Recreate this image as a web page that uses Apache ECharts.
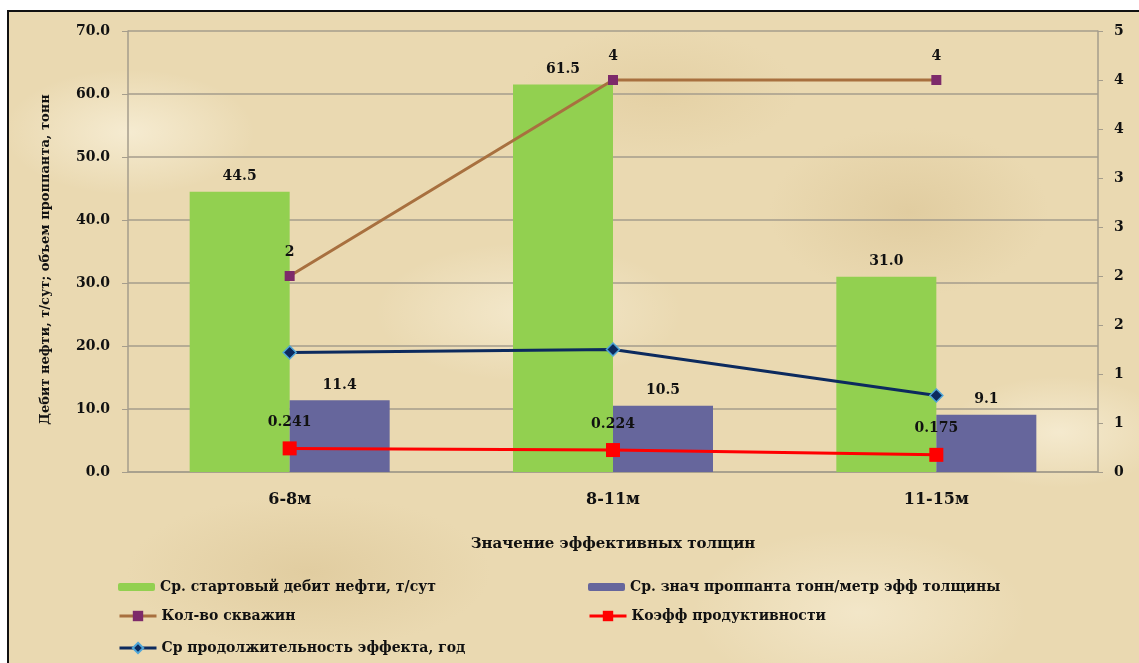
<!DOCTYPE html>
<html>
<head>
<meta charset="utf-8">
<script src="https://cdn.jsdelivr.net/npm/echarts@6/dist/echarts.min.js"></script>
<style>
  html, body { margin: 0; padding: 0; background: #fff; }
  #frame {
    position: absolute; left: 7px; top: 10px; width: 1140px; height: 660px;
    border: 2px solid #111;
    background-color: #ead9b1;
    background-image:
      radial-gradient(ellipse 180px 90px at 120px 120px, rgba(255,250,235,0.55), rgba(255,250,235,0) 70%),
      radial-gradient(ellipse 220px 100px at 520px 300px, rgba(255,250,235,0.45), rgba(255,250,235,0) 70%),
      radial-gradient(ellipse 200px 120px at 900px 200px, rgba(214,190,140,0.45), rgba(214,190,140,0) 70%),
      radial-gradient(ellipse 260px 110px at 300px 560px, rgba(214,190,140,0.45), rgba(214,190,140,0) 70%),
      radial-gradient(ellipse 240px 120px at 850px 600px, rgba(255,250,235,0.4), rgba(255,250,235,0) 70%),
      radial-gradient(ellipse 160px 80px at 1050px 420px, rgba(255,250,235,0.5), rgba(255,250,235,0) 70%),
      radial-gradient(ellipse 200px 90px at 650px 80px, rgba(220,196,146,0.4), rgba(220,196,146,0) 70%);
  }
  #chart { position: absolute; left: 0; top: 0; width: 1139px; height: 663px; }
</style>
</head>
<body>
<div id="frame"></div>
<div id="chart"></div>
<script>
  // categories and values
  let categories = ["6-8м", "8-11м", "11-15м"];
  let debit = [44.5, 61.5, 31.0];
  let proppant = [11.4, 10.5, 9.1];
  let wells = [2, 4, 4];
  let koeff = [0.241, 0.224, 0.175];
  let duration = [1.22, 1.25, 0.78];

  let names = [
    "Ср. стартовый дебит нефти, т/сут",
    "Ср. знач проппанта тонн/метр эфф толщины",
    "Кол-во скважин",
    "Коэфф продуктивности",
    "Ср продолжительность эффекта, год"
  ];

  let font = "'DejaVu Serif', 'Liberation Serif', serif";
  let gridColor = "#a59d8c";

  let myChart = echarts.init(document.getElementById("chart"), null, { renderer: "canvas" });

  let labelStyle = {
    show: true,
    position: "top",
    color: "#111",
    fontFamily: font,
    fontWeight: "bold",
    fontSize: 14
  };

  let legendText = { color: "#111", fontFamily: font, fontWeight: "bold", fontSize: 14 };

  // one legend per entry, so each sits where it does in the picture
  function legendAt(name, left, top, h) {
    return {
      left: left,
      top: top,
      itemWidth: 37,
      itemHeight: h,
      itemGap: 6,
      lineStyle: { width: 3 },
      textStyle: legendText,
      data: [name]
    };
  }

  let option = {
    backgroundColor: "transparent",
    grid: { left: 128, right: 41, top: 31, bottom: 191 },
    legend: [
      legendAt(names[0], 113, 575, 8),
      legendAt(names[1], 583, 575, 8),
      legendAt(names[2], 113, 604, 13),
      legendAt(names[3], 583, 604, 13),
      legendAt(names[4], 113, 636, 13)
    ],
    xAxis: {
      type: "category",
      data: categories,
      name: "Значение эффективных толщин",
      nameLocation: "middle",
      nameGap: 65,
      nameTextStyle: { color: "#111", fontFamily: font, fontWeight: "bold", fontSize: 15 },
      axisLine: { lineStyle: { color: gridColor, width: 1.5 } },
      axisTick: { show: false },
      axisLabel: { color: "#111", fontFamily: font, fontWeight: "bold", fontSize: 16, margin: 20 }
    },
    yAxis: [
      {
        type: "value",
        min: 0,
        max: 70,
        interval: 10,
        name: "Дебит нефти, т/сут; объем проппанта, тонн",
        nameLocation: "middle",
        nameGap: 76,
        nameTextStyle: {
          color: "#111", fontFamily: font, fontWeight: "bold", fontSize: 13,
          padding: [0, 16, 0, 0]
        },
        axisLine: { show: true, lineStyle: { color: gridColor, width: 1.5 } },
        axisTick: { show: true, length: 6, lineStyle: { color: gridColor } },
        splitLine: { lineStyle: { color: gridColor, width: 1.5 } },
        axisLabel: {
          color: "#111", fontFamily: font, fontWeight: "bold", fontSize: 14, margin: 18,
          formatter: function (v) { return v.toFixed(1); }
        }
      },
      {
        type: "value",
        min: 0,
        max: 4.5,
        interval: 0.5,
        position: "right",
        axisLine: { show: true, lineStyle: { color: gridColor, width: 1.5 } },
        axisTick: { show: true, length: 5, lineStyle: { color: gridColor } },
        splitLine: { show: false },
        axisLabel: {
          color: "#111", fontFamily: font, fontWeight: "bold", fontSize: 14, margin: 16,
          formatter: function (v) { return String(Math.round(v)); }
        }
      }
    ],
    series: [
      {
        name: names[0],
        type: "bar",
        data: debit,
        barWidth: 100,
        barGap: "0%",
        itemStyle: { color: "#92d050" },
        label: Object.assign({}, labelStyle, { distance: 8, formatter: function (p) { return p.value.toFixed(1); } })
      },
      {
        name: names[1],
        type: "bar",
        data: proppant,
        barWidth: 100,
        itemStyle: { color: "#66669c" },
        label: Object.assign({}, labelStyle, { distance: 8, formatter: function (p) { return p.value.toFixed(1); } })
      },
      {
        name: names[2],
        type: "line",
        yAxisIndex: 1,
        data: wells,
        symbol: "rect",
        symbolSize: 10,
        lineStyle: { color: "#a8703f", width: 3 },
        itemStyle: { color: "#7d2a6a", borderWidth: 0 },
        label: Object.assign({}, labelStyle, { distance: 12 }),
        z: 5
      },
      {
        name: names[3],
        type: "line",
        yAxisIndex: 1,
        data: koeff,
        symbol: "rect",
        symbolSize: 14,
        lineStyle: { color: "#ff0000", width: 3 },
        itemStyle: { color: "#ff0000", borderWidth: 0 },
        label: Object.assign({}, labelStyle, { distance: 12, formatter: function (p) { return p.value.toFixed(3); } }),
        z: 5
      },
      {
        name: names[4],
        type: "line",
        yAxisIndex: 1,
        data: duration,
        symbol: "diamond",
        symbolSize: 13,
        lineStyle: { color: "#0c2a5e", width: 3 },
        itemStyle: { color: "#0c2a5e", borderColor: "#4fa6d8", borderWidth: 1.5 },
        label: { show: false },
        z: 5
      }
    ]
  };

  myChart.setOption(option);
  window.addEventListener("resize", myChart.resize);
</script>
</body>
</html>
